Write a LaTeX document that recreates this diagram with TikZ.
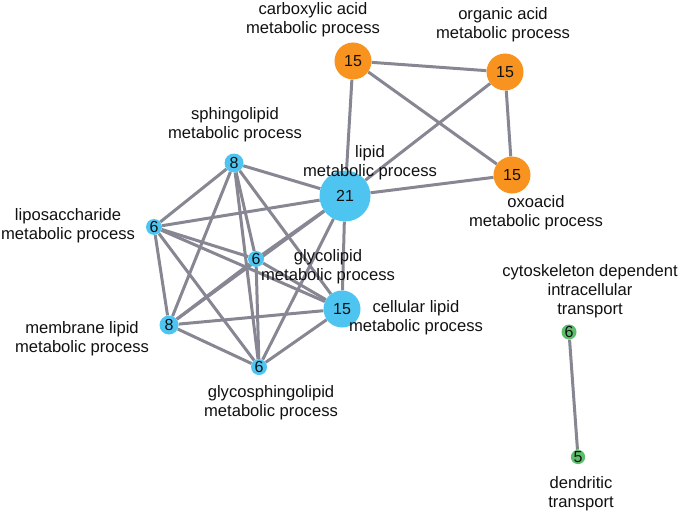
\documentclass[tikz,border=0pt]{standalone}
\usepackage{fontspec}
\setmainfont{Liberation Sans}
\usetikzlibrary{backgrounds}
\definecolor{nblue}{HTML}{4EC4F0}
\definecolor{norange}{HTML}{F7931E}
\definecolor{ngreen}{HTML}{5CBE6A}
\definecolor{edgegray}{HTML}{868792}
\definecolor{txt}{HTML}{111111}
\tikzset{
  gnode/.style={circle, inner sep=0pt, text=txt, font=\fontsize{16}{19}\selectfont},
  bnode/.style={gnode, fill=nblue},
  onode/.style={gnode, fill=norange},
  grnode/.style={gnode, fill=ngreen},
  lbl/.style={align=center, inner sep=0pt, text=txt, font=\fontsize{16.6}{19}\selectfont},
  conn/.style={draw=edgegray, line width=3pt}
}
\begin{document}
\begin{tikzpicture}[x=1pt,y=-1pt]
\useasboundingbox (0,0) rectangle (682,516);
% nodes
\node[onode, minimum size=37pt] (carb) at (353,61) {15};
\node[onode, minimum size=37pt] (org) at (505,72) {15};
\node[onode, minimum size=37pt] (oxo) at (512,175) {15};
\node[bnode, minimum size=51pt] (lip) at (345,196) {21};
\node[bnode, minimum size=19pt] (sph) at (234,163) {8};
\node[bnode, minimum size=16pt] (lps) at (154,227) {6};
\node[bnode, minimum size=16pt] (gly) at (256,259) {6};
\node[bnode, minimum size=37pt] (cel) at (342,309) {15};
\node[bnode, minimum size=19pt] (mem) at (169,325) {8};
\node[bnode, minimum size=16pt] (gsp) at (259,367) {6};
\node[grnode, minimum size=15pt] (cyt) at (569,332) {6};
\node[grnode, minimum size=14pt] (den) at (578,457) {5};
% labels
\node[lbl] (tcarb) at (313,20) {carboxylic acid\\metabolic process};
\node[lbl] (torg) at (503,25) {organic acid\\metabolic process};
\node[lbl] (tsph) at (235,125) {sphingolipid\\metabolic process};
\node[lbl] (tlip) at (370,163) {lipid\\metabolic process};
\node[lbl] (tlps) at (68,226) {liposaccharide\\metabolic process};
\node[lbl] (tgly) at (328,267) {glycolipid\\metabolic process};
\node[lbl] (tcel) at (416,318) {cellular lipid\\metabolic process};
\node[lbl] (tmem) at (82,339) {membrane lipid\\metabolic process};
\node[lbl] (tgsp) at (271,403) {glycosphingolipid\\metabolic process};
\node[lbl] (toxo) at (536,213) {oxoacid\\metabolic process};
\node[lbl] (tcyt) at (590,291) {cytoskeleton dependent\\intracellular\\transport};
\node[lbl] (tden) at (581,494) {dendritic\\transport};
% edges
\begin{scope}[on background layer]
\foreach \a/\b in {carb/org, carb/oxo, carb/lip, org/oxo, org/lip, oxo/lip,
  sph/lip, sph/lps, sph/gly, sph/cel, sph/mem, sph/gsp,
  lps/lip, lps/gly, lps/cel, lps/mem, lps/gsp,
  gly/lip, gly/cel, gly/mem, gly/gsp,
  mem/lip, mem/cel, mem/gsp,
  gsp/lip, gsp/cel, cel/lip, cyt/den}
  \draw[conn] (\a) -- (\b);
\end{scope}
\end{tikzpicture}
\end{document}
